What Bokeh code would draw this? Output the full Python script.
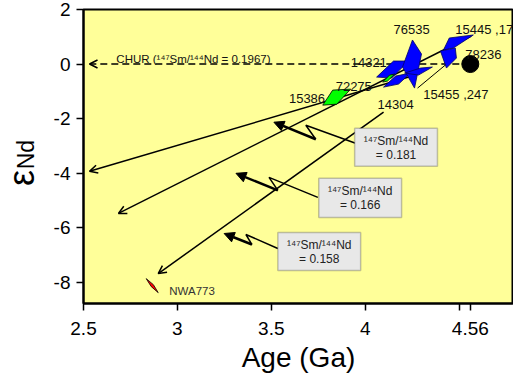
import numpy as np
from bokeh.plotting import figure
from bokeh.layouts import row
from bokeh.core.properties import value
from bokeh.models import (Range1d, FixedTicker, Label, Arrow, OpenHead, NormalHead,
                          ColumnDataSource, BoxAnnotation)
from bokeh.embed import file_html
from bokeh.resources import INLINE

# ---------------- data (age in Ga, epsilon Nd) ----------------
sample_names = ["14321", "14304", "76535", "15455,247", "15445", "15445,17",
                "72275", "15386", "NWA773"]
sample_group = ["blue", "blue", "blue", "blue", "blue", "blue",
                "green", "green", "red"]
poly_age = [
    [4.061, 4.151, 4.231, 4.141],
    [4.098, 4.162, 4.241, 4.178],
    [4.252, 4.300, 4.263, 4.199],
    [4.210, 4.295, 4.358, 4.284],
    [4.417, 4.448, 4.576, 4.470],
    [4.401, 4.480, 4.486, 4.433],
    [4.093, 4.130, 4.157, 4.119],
    [3.774, 3.827, 3.923, 3.849],
    [2.834, 2.872, 2.898, 2.861],
]
poly_eps = [
    [-0.478, 0.110, 0.110, -0.515],
    [-0.846, -0.441, -0.331, -0.735],
    [0.882, 0.368, -0.882, -0.110],
    [-0.331, -0.147, -0.110, -0.404],
    [0.515, 0.956, 1.066, 0.588],
    [0.478, 0.588, 0.221, -0.147],
    [-0.662, -0.404, -0.368, -0.625],
    [-1.507, -0.956, -0.919, -1.471],
    [-7.868, -8.088, -8.382, -8.162],
]

# evolution lines for three 147Sm/144Nd ratios
sm_nd_ratio = ["0.181", "0.166", "0.158"]
evo_age_start = [4.268, 4.565, 4.098]
evo_eps_start = [-0.404, 1.029, -1.765]
evo_age_end = [2.532, 2.686, 2.898]
evo_eps_end = [-3.934, -5.478, -7.684]

# CHUR reference
chur_age = [4.56, 2.532]
chur_eps = [0.0, 0.0]
ref_age = [4.56]
ref_eps = [0.0]

x_ticks = [2.5, 3, 3.5, 4, 4.5, 4.56]
x_tick_labels = ["2.5", "3", "3.5", "4", "", "4.56"]
y_ticks = [-8, -6, -4, -2, 0, 2]
y_tick_labels = ["-8", "-6", "-4", "-2", "0", "2"]

FONT = "Liberation Sans"
LEFT_W = 50
H = 377

# ---------------- side panel for the y-axis title ----------------
side = figure(width=LEFT_W, height=H, x_range=Range1d(0, LEFT_W), y_range=Range1d(0, H),
              output_backend="svg", toolbar_location=None,
              x_axis_location=None, y_axis_location=None, title=None,
              min_border_left=0, min_border_right=0, min_border_top=0, min_border_bottom=0)
side.grid.visible = False
side.outline_line_color = None
side.background_fill_color = "white"
side.border_fill_color = "white"
side.text(x=[21], y=[H - 216], text=["ε"], angle=np.pi / 2, text_font=value(FONT),
          text_font_size="36px", text_align="center", text_baseline="middle", text_color="black")
side.text(x=[25], y=[H - 186], text=["Nd"], angle=np.pi / 2, text_font=value(FONT),
          text_font_size="23px", text_align="center", text_baseline="middle", text_color="black")

# ---------------- main figure ----------------
p = figure(width=513 - LEFT_W, height=H, x_range=Range1d(2.5, 4.79), y_range=Range1d(-8.78, 2),
           output_backend="svg", toolbar_location=None,
           min_border_left=82 - LEFT_W, min_border_right=0, min_border_top=9, min_border_bottom=74)
p.background_fill_color = "#FFFF99"
p.border_fill_color = "white"
p.grid.visible = False
p.outline_line_color = "black"
p.outline_line_width = 2

p.xaxis.ticker = FixedTicker(ticks=x_ticks)
p.xaxis.major_label_overrides = {t: l for t, l in zip(x_ticks, x_tick_labels)}
p.yaxis.ticker = FixedTicker(ticks=y_ticks)
p.yaxis.major_label_overrides = {t: l for t, l in zip(y_ticks, y_tick_labels)}
for ax in (p.xaxis[0], p.yaxis[0]):
    ax.axis_line_width = 2
    ax.axis_line_color = "black"
    ax.major_tick_line_width = 1.5
    ax.major_tick_out = 7
    ax.major_tick_in = 0
    ax.minor_tick_out = 0
    ax.minor_tick_in = 0
    ax.major_label_text_font = FONT
    ax.major_label_text_font_size = "19px"
    ax.major_label_text_color = "black"
p.yaxis.major_label_standoff = 6
p.xaxis.major_label_standoff = 11

p.xaxis.axis_label = "Age (Ga)"
p.xaxis.axis_label_text_font = FONT
p.xaxis.axis_label_text_font_size = "28px"
p.xaxis.axis_label_text_font_style = "normal"
p.xaxis.axis_label_text_color = "black"
p.xaxis.axis_label_standoff = 4

# evolution lines (under the sample polygons)
evo_src = ColumnDataSource(dict(x0=evo_age_start, y0=evo_eps_start,
                                x1=evo_age_end, y1=evo_eps_end))
p.add_layout(Arrow(end=OpenHead(size=8, line_width=1.5, line_color="black"),
                   x_start="x0", y_start="y0", x_end="x1", y_end="y1",
                   source=evo_src, line_width=1.5, line_color="black", level="underlay"))

# CHUR dashed line
p.add_layout(Arrow(end=OpenHead(size=8, line_width=1.5, line_color="black"),
                   x_start=chur_age[0], y_start=chur_eps[0], x_end=chur_age[1], y_end=chur_eps[1],
                   line_width=1.5, line_dash="7 4", line_color="black", level="underlay"))

# sample polygons
col_map = {"blue": ("#0000FF", "#000066"), "green": ("#00FF00", "#000000"), "red": ("#FF0000", "#000000")}
fills = [col_map[g][0] for g in sample_group]
lines = [col_map[g][1] for g in sample_group]
p.patches(xs=poly_age, ys=poly_eps, fill_color=fills, line_color=lines, line_width=0.8)

p.scatter(ref_age, ref_eps, size=17, marker="circle", fill_color="black", line_color="black")

# leader for 15455,247
p.line([4.279, 4.427], [-0.882, -0.037], line_color="black", line_width=1)

# zigzag leaders from boxes
zig = [
    ([3.949, 3.684, 3.737], [-2.904, -2.243, -2.757], (3.514, -2.132)),
    ([3.748, 3.488, 3.535], [-4.890, -4.154, -4.632], (3.312, -4.007)),
    ([3.535, 3.365, 3.397], [-6.765, -6.250, -6.618], (3.249, -6.213)),
]
for xs, ys, tip in zig:
    p.line(xs, ys, line_color="black", line_width=1.5)
    p.add_layout(Arrow(end=NormalHead(size=10, fill_color="black", line_color="black"),
                       x_start=xs[-1], y_start=ys[-1], x_end=tip[0], y_end=tip[1],
                       line_width=2.5, line_color="black"))

# ratio boxes
boxes = [(3.944, 4.385, -2.353, -3.750), (3.753, 4.194, -4.191, -5.625), (3.535, 3.976, -6.176, -7.574)]
for (l, r, t, b), ratio in zip(boxes, sm_nd_ratio):
    p.add_layout(BoxAnnotation(left=l, right=r, top=t, bottom=b, fill_color="#E8E8E8",
                               fill_alpha=1, line_color="#404040", line_width=1.5))
    cx = (l + r) / 2
    p.add_layout(Label(x=cx, y=t - 12.5 / 27.27, text="¹⁴⁷Sm/¹⁴⁴Nd", text_align="center",
                       text_baseline="middle", text_font=FONT, text_font_size="12px",
                       text_color="#222222"))
    p.add_layout(Label(x=cx, y=t - 27 / 27.27, text="= " + ratio, text_align="center",
                       text_baseline="middle", text_font=FONT, text_font_size="12px",
                       text_color="#222222"))

# sample labels
label_pos = {
    "76535": (4.151, 1.25), "15445 ,17": (4.480, 1.25), "78236": (4.533, 0.35),
    "14321": (3.923, 0.074), "72275": (3.843, -0.809), "15386": (3.594, -1.25),
    "14304": (4.066, -1.471), "15455 ,247": (4.310, -1.103),
}
for txt, (x, y) in label_pos.items():
    p.add_layout(Label(x=x, y=y, text=txt, text_font=FONT, text_font_size="13px",
                       text_color="#111111", text_baseline="alphabetic"))
p.add_layout(Label(x=2.957, y=-8.309, text="NWA773", text_font=FONT, text_font_size="11.5px",
                   text_color="#333333", text_baseline="alphabetic"))
p.add_layout(Label(x=2.675, y=0.19, text="CHUR (¹⁴⁷Sm/¹⁴⁴Nd = 0.1967)", text_font=FONT,
                   text_font_size="11.5px", text_color="#111111", text_baseline="alphabetic"))

layout = row(side, p, spacing=0)
open("out.html", "w").write(file_html(layout, INLINE))
